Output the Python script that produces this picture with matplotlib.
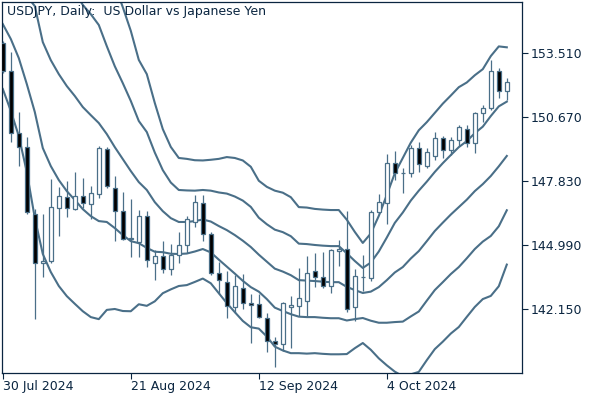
import numpy as np
import matplotlib
matplotlib.use("Agg")
import matplotlib.pyplot as plt
from matplotlib.patches import Rectangle

# USDJPY daily candles, 30 Jul 2024 .. 25 Oct 2024
opens = [153.98, 152.74, 149.96, 149.34, 146.37, 144.19, 144.28, 146.65, 147.15, 146.59,
         147.17, 146.81, 147.27, 149.25, 147.55, 146.53, 145.28, 145.12, 146.28, 144.22,
         144.52, 143.93, 144.55, 144.99, 146.01, 146.86, 145.48, 143.75, 143.38, 142.24,
         143.08, 142.42, 142.37, 141.78, 140.76, 140.60, 142.27, 142.30, 142.53, 143.87,
         143.57, 143.20, 144.73, 144.81, 142.24, 143.57, 143.55, 146.46, 146.86, 148.63,
         148.19, 148.19, 149.30, 148.51, 148.97, 149.74, 149.22, 149.66, 150.14, 149.52,
         150.85, 151.07, 152.74, 151.84]
highs = [154.05, 153.58, 150.89, 149.81, 146.60, 146.37, 147.93, 147.57, 147.83, 148.23,
         147.98, 147.62, 149.40, 149.37, 148.07, 147.34, 147.05, 146.56, 146.51, 144.78,
         145.20, 145.05, 145.58, 146.29, 147.24, 147.24, 145.58, 144.26, 143.87, 143.67,
         143.72, 142.83, 142.83, 141.97, 140.91, 142.46, 142.76, 143.97, 144.52, 144.66,
         144.68, 144.84, 145.23, 146.50, 143.93, 144.56, 146.56, 147.27, 149.04, 149.17,
         148.41, 149.44, 149.56, 149.32, 150.01, 149.85, 149.81, 150.33, 150.33, 150.89,
         151.22, 153.21, 152.84, 152.40]
lows = [152.65, 149.59, 148.52, 146.38, 141.71, 143.60, 144.19, 145.42, 146.26, 146.56,
        146.63, 146.15, 147.08, 147.56, 145.20, 145.23, 144.47, 144.46, 144.04, 143.44,
        143.75, 143.67, 144.22, 144.64, 145.79, 145.17, 143.70, 142.83, 141.75, 141.97,
        142.15, 140.67, 141.75, 140.27, 139.58, 140.32, 140.42, 141.86, 141.86, 143.15,
        143.11, 142.89, 144.09, 142.05, 141.65, 142.96, 143.42, 146.37, 145.92, 147.89,
        147.33, 148.01, 148.23, 148.41, 148.78, 148.85, 149.00, 149.40, 149.37, 149.10,
        150.48, 150.99, 151.51, 151.44]
closes = [152.72, 150.00, 149.34, 146.48, 144.19, 144.30, 146.68, 147.19, 146.65, 147.19,
          146.86, 147.30, 149.30, 147.62, 146.53, 145.26, 145.33, 146.28, 144.34, 144.52,
          143.93, 144.55, 144.99, 146.15, 146.91, 145.49, 143.75, 143.45, 142.30, 143.19,
          142.42, 142.34, 141.80, 140.76, 140.60, 142.42, 142.34, 142.64, 143.75, 143.57,
          143.20, 144.78, 144.81, 142.15, 143.63, 143.60, 146.46, 146.90, 148.63, 148.19,
          148.20, 149.30, 148.59, 149.12, 149.74, 149.22, 149.66, 150.23, 149.54, 150.85,
          151.07, 152.74, 151.84, 152.25]

# Bollinger band centre line and one-deviation width, read at each bar
bb_mid = [157.69, 157.34, 156.76, 156.05, 155.61, 154.01, 153.21, 152.59, 152.06, 151.62,
          151.13, 150.77, 150.42, 149.93, 149.35, 148.82, 148.29, 147.80, 147.45, 146.91,
          146.51, 146.20, 146.03, 146.03, 146.07, 146.14, 146.05, 145.85, 145.67, 145.45,
          145.20, 144.92, 144.58, 144.27, 143.96, 143.83, 143.67, 143.45, 143.43, 143.41,
          143.38, 143.36, 143.36, 143.15, 143.01, 142.88, 142.94, 143.14, 143.45, 143.79,
          144.03, 144.41, 144.74, 145.18, 145.63, 146.00, 146.36, 146.69, 147.02, 147.40,
          147.71, 148.07, 148.50, 148.96]
bb_dev = [2.88, 3.19, 3.46, 3.90, 4.70, 4.70, 4.70, 4.70, 4.66, 4.61,
          4.53, 4.48, 4.35, 3.90, 3.59, 3.37, 3.11, 2.71, 2.57, 2.20,
          1.82, 1.58, 1.42, 1.40, 1.35, 1.31, 1.37, 1.49, 1.62, 1.71,
          1.78, 1.78, 1.64, 1.66, 1.73, 1.75, 1.73, 1.62, 1.62, 1.60,
          1.60, 1.60, 1.60, 1.49, 1.29, 1.11, 1.29, 1.58, 1.89, 2.20,
          2.42, 2.57, 2.68, 2.64, 2.62, 2.64, 2.64, 2.66, 2.60, 2.57,
          2.55, 2.66, 2.66, 2.41]
band_levels = [-2, -1, 0, 1, 2]

date_ticks = [0, 16, 32, 48]
date_labels = ["30 Jul 2024", "21 Aug 2024", "12 Sep 2024", "4 Oct 2024"]
price_ticks = [142.15, 144.99, 147.83, 150.67, 153.51]

line_col = "#4a6f88"
axis_col = "#0a2540"

fig = plt.figure(figsize=(6, 4), dpi=100)
ax = fig.add_axes([2 / 600, 1 - 373 / 400, 520 / 600, 371 / 400])

x = np.arange(len(closes))
mid = np.array(bb_mid)
dev = np.array(bb_dev)
for k in band_levels:
    ax.plot(x, mid + k * dev, color=line_col, lw=1.5, zorder=2)

w = 0.5
for i in range(len(closes)):
    o, h, l, c = opens[i], highs[i], lows[i], closes[i]
    ax.vlines(i, l, h, color=line_col, lw=0.9, zorder=3)
    bottom = min(o, c)
    height = max(abs(c - o), 0.03)
    face = "black" if c < o else "white"
    ax.add_patch(Rectangle((i - w / 2, bottom), w, height, facecolor=face,
                           edgecolor=line_col, lw=0.9, zorder=4))

ax.set_xlim(-0.1, 64.9)
ax.set_ylim(139.33, 155.79)

ax.yaxis.tick_right()
ax.set_yticks(price_ticks)
ax.set_yticklabels([f"{v:.3f}" for v in price_ticks])
ax.set_xticks(date_ticks)
ax.set_xticklabels(date_labels, ha="left")
ax.tick_params(axis="both", colors=axis_col, labelsize=9, length=4, width=0.8, pad=1)
ax.tick_params(axis="y", pad=2)
for s in ax.spines.values():
    s.set_color(axis_col)
    s.set_linewidth(0.9)

ax.text(0.009, 0.993, "USDJPY, Daily:  US Dollar vs Japanese Yen", transform=ax.transAxes,
        ha="left", va="top", fontsize=9, color=axis_col)

fig.savefig("out.png", dpi=100)
